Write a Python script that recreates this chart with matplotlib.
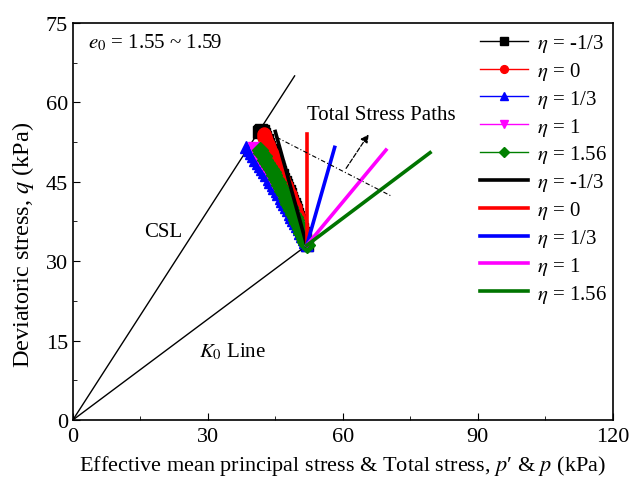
import matplotlib.pyplot as plt
from matplotlib.ticker import MultipleLocator

plt.rcParams["font.family"] = ["Liberation Serif", "DejaVu Serif"]
plt.rcParams["mathtext.fontset"] = "stix"

etas = ["-1/3", "0", "1/3", "1", "1.56"]
colors = ["black", "red", "blue", "magenta", "green"]
colors_thick = ["black", "red", "blue", "magenta", "#007400"]
markers = ["s", "o", "^", "v", "D"]

# effective stress paths (p', q)
eff_q = [
    [33.0, 33.6, 34.2, 34.8, 35.4, 36.0, 36.6, 37.2, 37.8, 38.4, 39.0, 39.6, 40.2, 40.8, 41.4, 42.0,
     42.6, 43.2, 43.8, 44.4, 45.0, 45.6, 46.2, 46.8, 47.4, 48.0, 48.6, 49.2, 49.8, 50.4, 51.0, 51.6,
     52.2, 52.8, 53.4, 54.0, 54.5, 54.7, 54.6, 54.4],
    [33.0, 33.6, 34.2, 34.8, 35.4, 36.0, 36.6, 37.2, 37.8, 38.4, 39.0, 39.6, 40.2, 40.8, 41.4, 42.0,
     42.6, 43.2, 43.8, 44.4, 45.0, 45.6, 46.2, 46.8, 47.4, 48.0, 48.6, 49.2, 49.8, 50.4, 51.0, 51.6,
     52.2, 52.8, 53.4, 54.0, 54.3, 54.0, 53.5, 53.0, 52.5],
    [33.0, 33.6, 34.2, 34.8, 35.4, 36.0, 36.6, 37.2, 37.8, 38.4, 39.0, 39.6, 40.2, 40.8, 41.4, 42.0,
     42.6, 43.2, 43.8, 44.4, 45.0, 45.6, 46.2, 46.8, 47.4, 48.0, 48.6, 49.2, 49.8, 50.4, 51.0, 51.5],
    [33.0, 33.6, 34.2, 34.8, 35.4, 36.0, 36.6, 37.2, 37.8, 38.4, 39.0, 39.6, 40.2, 40.8, 41.4, 42.0,
     42.6, 43.2, 43.8, 44.4, 45.0, 45.6, 46.2, 46.8, 47.4, 48.0, 48.6, 49.2, 49.8, 50.4, 51.0, 51.3],
    [33.0, 33.6, 34.2, 34.8, 35.4, 36.0, 36.6, 37.2, 37.8, 38.4, 39.0, 39.6, 40.2, 40.8, 41.4, 42.0,
     42.6, 43.2, 43.8, 44.4, 45.0, 45.6, 46.2, 46.8, 47.4, 48.0, 48.6, 49.2, 49.8, 50.4, 51.0],
]
eff_p = [
    [52.0, 51.8, 51.6, 51.4, 51.2, 51.0, 50.8, 50.6, 50.4, 50.1, 49.9, 49.6, 49.4, 49.1, 48.8, 48.6,
     48.3, 48.0, 47.7, 47.4, 47.1, 46.8, 46.5, 46.1, 45.8, 45.5, 45.2, 44.9, 44.6, 44.3, 44.0, 43.7,
     43.4, 43.1, 42.8, 42.5, 42.2, 41.9, 41.6, 41.4],
    [52.0, 51.9, 51.7, 51.5, 51.3, 51.1, 50.9, 50.7, 50.5, 50.2, 50.0, 49.7, 49.5, 49.2, 48.9, 48.7,
     48.4, 48.1, 47.8, 47.5, 47.2, 46.9, 46.6, 46.2, 45.9, 45.6, 45.3, 45.0, 44.7, 44.4, 44.1, 43.8,
     43.5, 43.2, 43.0, 42.8, 42.5, 42.3, 42.3, 42.5, 42.8],
    [52.0, 51.7, 51.3, 51.0, 50.6, 50.2, 49.8, 49.4, 49.0, 48.6, 48.2, 47.8, 47.4, 47.0, 46.6, 46.2,
     45.7, 45.3, 44.8, 44.4, 43.9, 43.5, 43.0, 42.6, 42.1, 41.6, 41.1, 40.6, 40.1, 39.6, 39.1, 38.6],
    [52.0, 51.7, 51.4, 51.0, 50.7, 50.3, 50.0, 49.6, 49.3, 48.9, 48.5, 48.2, 47.8, 47.4, 47.0, 46.6,
     46.2, 45.8, 45.4, 45.0, 44.6, 44.2, 43.8, 43.4, 42.9, 42.5, 42.1, 41.6, 41.2, 40.8, 40.4, 40.2],
    [52.0, 51.7, 51.4, 51.1, 50.8, 50.5, 50.2, 49.9, 49.6, 49.3, 48.9, 48.6, 48.3, 47.9, 47.6, 47.3,
     46.9, 46.6, 46.2, 45.9, 45.5, 45.2, 44.8, 44.4, 44.0, 43.6, 43.2, 42.8, 42.4, 41.9, 41.5],
]

# total stress paths: start and end (p, q)
tot_p = [[52.0, 45.0], [52.0, 52.0], [52.0, 58.2], [52.0, 69.6], [52.0, 79.4]]
tot_q = [[33.0, 54.5], [33.0, 54.0], [33.0, 51.5], [33.0, 51.0], [33.0, 50.5]]

csl_p = [0, 49.3]
csl_q = [0, 65.0]
k0_p = [0, 52.0]
k0_q = [0, 33.0]


def main() -> None:
    fig = plt.figure(figsize=(6.33, 4.89), dpi=100)
    ax = fig.add_axes([0.115, 0.139, 0.853, 0.812])

    ax.plot(csl_p, csl_q, color="black", lw=1)
    ax.plot(k0_p, k0_q, color="black", lw=1)

    handles = []
    for i in range(5):
        h, = ax.plot(eff_p[i], eff_q[i], color=colors[i], lw=1, marker=markers[i],
                     markersize=8, label=rf"$\eta$ = {etas[i]}")
        handles.append(h)
    for i in range(5):
        h, = ax.plot(tot_p[i], tot_q[i], color=colors_thick[i], lw=2.6,
                     label=rf"$\eta$ = {etas[i]}")
        handles.append(h)

    ax.plot([45.3, 70.8], [53.4, 42.3], color="black", lw=0.8, ls=(0, (4, 2, 1, 2)))
    ax.annotate("", xy=(66.1, 54.4), xytext=(60.4, 47.1),
                arrowprops=dict(arrowstyle="-|>", color="black", lw=0.9, ls="--",
                                mutation_scale=12))

    ax.text(52, 57.8, "Total Stress Paths", fontsize=15, va="center")
    ax.text(20.2, 35.7, "CSL", fontsize=15, ha="center", va="center")
    ax.text(35.6, 13.0, r"$K_0$ Line", fontsize=15, ha="center", va="center")
    ax.text(3.4, 71.4, r"$e_0$ = 1.55 ~ 1.59", fontsize=15, va="center")

    ax.set_xlim(0, 120)
    ax.set_ylim(0, 75)
    ax.xaxis.set_major_locator(MultipleLocator(30))
    ax.xaxis.set_minor_locator(MultipleLocator(15))
    ax.yaxis.set_major_locator(MultipleLocator(15))
    ax.yaxis.set_minor_locator(MultipleLocator(7.5))
    ax.tick_params(which="both", direction="in", labelsize=16)
    ax.tick_params(which="major", length=5)
    ax.tick_params(which="minor", length=3)
    ax.tick_params(axis="x", pad=5)
    for s in ax.spines.values():
        s.set_linewidth(1.2)

    ax.set_xlabel(r"Effective mean principal stress & Total stress, $p$′ & $p$ (kPa)",
                  fontsize=16, labelpad=5)
    ax.set_ylabel(r"Deviatoric stress, $q$ (kPa)", fontsize=17.5)
    ax.yaxis.set_label_coords(-0.068, 0.443)

    ax.legend(handles=handles, loc="upper left", bbox_to_anchor=(0.755, 0.977),
              frameon=False, fontsize=15, handlelength=2.3, handletextpad=0.4,
              labelspacing=0.28, borderaxespad=0, borderpad=0, markerscale=0.7)

    fig.savefig("out.png", dpi=100)
    plt.close(fig)


if __name__ == "__main__":
    main()
